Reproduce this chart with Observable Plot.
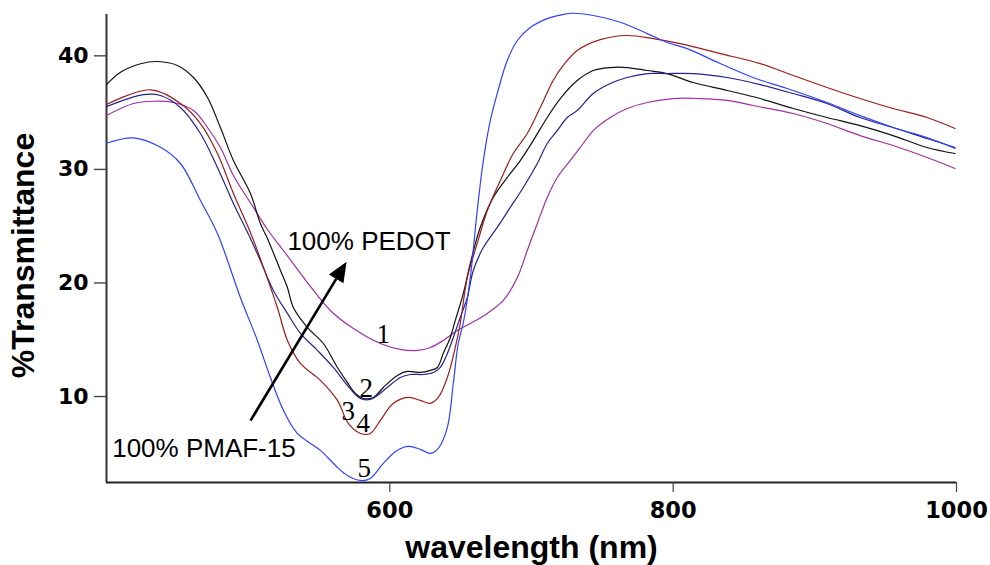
<!DOCTYPE html>
<html>
<head>
<meta charset="utf-8">
<script src="https://cdn.jsdelivr.net/npm/d3@7"></script>
<script src="https://cdn.jsdelivr.net/npm/@observablehq/plot@0.6"></script>
<style>
  html, body { margin: 0; padding: 0; background: #fff; }
  svg { display: block; }
</style>
</head>
<body>
<div id="chart"></div>
<script>
// Transmittance spectra of PEDOT / PMAF-15 films, [wavelength nm, %T]
const curve1 = [[400,34.74],[419,35.80],[433.2,36.00],[447.3,35.89],[461.4,35.18],[471.3,33.69],[480.4,31.93],[489.6,29.46],[503.7,26.65],[513.6,24.71],[524.9,22.86],[541.8,20.04],[558,17.58],[574.3,15.99],[593.3,14.67],[607.4,14.15],[619.4,14.06],[628.6,14.32],[637.7,14.94],[647.6,15.82],[656.8,16.43],[668.8,17.32],[680.1,18.46],[690,20.48],[697,22.86],[704.1,25.24],[711.1,27.53],[718.2,29.29],[727.3,30.78],[734.4,31.93],[743.6,33.42],[755.6,34.57],[767.5,35.36],[781.7,35.89],[800,36.24],[819,36.24],[838.1,36.07],[856.4,35.63],[884.7,34.92],[908.6,34.04],[931.9,32.98],[955.2,32.10],[979.2,31.05],[999,30.08]];
const curve2 = [[400,37.47],[409.9,38.56],[424,39.30],[436,39.50],[450.1,39.15],[461.4,38.09],[471.3,36.33],[480.4,33.69],[489.6,30.78],[501.6,27.88],[508.6,25.24],[513.6,23.92],[522.8,21.10],[527.7,19.6],[531.9,17.84],[541.8,16.08],[553.1,14.67],[563,12.56],[570,11.24],[575.7,10.27],[581.3,9.83],[588.4,9.92],[595.4,10.80],[605.3,11.86],[612.3,12.21],[621.5,12.12],[628.6,12.30],[633.5,12.56],[637.7,13.79],[642.7,15.20],[646.2,16.70],[651.9,19.08],[656.8,21.72],[663.8,24.89],[673,27.53],[682.9,29.29],[692.1,30.78],[701.2,32.54],[711.1,34.57],[720.3,36.24],[732.3,37.83],[743.6,38.71],[755.6,38.97],[767.5,38.97],[781.7,38.71],[795.8,38.44],[814.1,37.65],[838.1,36.95],[861.4,36.24],[884.7,35.36],[908.6,34.57],[931.9,33.86],[955.2,32.98],[979.2,31.93],[999,31.40]];
const curve3 = [[400,35.53],[426.1,36.59],[438.1,36.51],[452.2,35.45],[466.3,33.16],[478.3,30.17],[489.6,27.00],[501.6,23.92],[508.6,21.98],[517.8,19.34],[527.7,17.32],[536.9,15.56],[548.9,14.06],[560.1,12.56],[570,10.98],[579.2,9.83],[586.2,9.75],[591.2,10.10],[598.2,10.80],[607.4,11.68],[614.5,11.94],[623.6,11.94],[630.7,12.12],[635.6,12.56],[640.6,13.79],[644.8,15.20],[649.7,16.96],[654.7,18.72],[658.9,21.10],[666,23.12],[675.8,24.89],[685,26.65],[694.2,28.41],[704.1,30.52],[711.1,32.28],[718.2,33.42],[725.2,34.57],[732.3,35.18],[743.6,36.68],[755.6,37.56],[767.5,38.09],[781.7,38.44],[795.8,38.44],[814.1,38.44],[838.1,38.09],[861.4,37.47],[884.7,36.68],[908.6,35.80],[931.9,34.57],[955.2,33.69],[979.2,32.72],[999,31.93]];
const curve4 = [[400,35.71],[431,37.01],[452.2,35.80],[466.3,34.04],[478.3,31.40],[489.6,27.88],[501.6,24.45],[510.8,21.37],[520.6,17.84],[527.7,14.94],[536.9,12.91],[551,11.42],[563,9.66],[570.7,7.63],[579.2,6.75],[586.2,6.75],[593.3,7.90],[602.5,9.40],[613.1,9.92],[621.5,9.66],[628.6,9.40],[634.2,9.92],[640.6,11.68],[646.2,14.32],[649.7,16.43],[654.7,20.48],[661.7,23.48],[668.8,26.38],[678,29.02],[687.1,31.40],[697,33.16],[706.2,35.45],[715.3,37.83],[722.4,39.15],[732.3,40.47],[748.5,41.43],[767.5,41.79],[785.9,41.52],[804.9,41.08],[833.2,40.20],[861.4,39.32],[884.7,38.27],[908.6,37.21],[931.9,36.24],[955.2,35.36],[979.2,34.57],[999,33.60]];
const curve5 = [[400,32.30],[419,32.78],[438.1,31.95],[452.2,30.52],[466.3,27.26],[478.3,24.36],[494.5,18.72],[506.5,14.94],[515.7,11.68],[524.9,8.78],[534.7,6.75],[551,5.26],[563,3.76],[570,3.05],[579.2,2.61],[586.2,2.79],[595.4,4.11],[605.3,5.26],[613.1,5.61],[621.5,5.35],[628.6,4.99],[634.2,5.43],[640.6,7.28],[644.8,11.15],[648.3,14.67],[651.9,16.5],[656.8,20.48],[661.7,26.38],[666,30.78],[670.9,34.30],[675.8,36.68],[682.9,39.59],[690,41.35],[699.1,42.49],[711.1,43.28],[722.4,43.64],[728.8,43.75],[743.6,43.55],[762.6,42.96],[781.7,41.96],[795.8,41.17],[809.9,40.64],[833.2,39.32],[856.4,38.09],[880.4,37.12],[908.6,35.89],[931.9,34.74],[955.2,33.69],[979.2,32.81],[999,31.84]];

const seriesNames = ["1", "2", "3", "4", "5"];
const seriesData = [curve1, curve2, curve3, curve4, curve5];
// where each curve number is written, [wavelength, %T]
const seriesLabelAt = [[595.4, 14.67], [583.4, 9.92], [570.7, 7.9], [581.3, 6.84], [582.0, 2.88]];

const xDomain = [400, 1000];
const yDomain = [2.43, 43.64];
const xTicks = [600, 800, 1000];
const yTicks = [10, 20, 30, 40];

const notes = [
  {nm: 527.7, t: 22.92, text: "100% PEDOT"},
  {nm: 404.0, t: 4.67, text: "100% PMAF-15"}
];
const arrowFrom = [502.0, 7.83];
const arrowTo = [569.8, 21.83];

// drawing styles
const colors = ["#a030a0", "#111111", "#23238f", "#9b1c1c", "#3040ff"];
const sansBold = "'Liberation Sans', Arial, sans-serif";
const tickFont = "'DejaVu Sans', Verdana, sans-serif";

const rows = seriesData.map((pts, i) => pts.map(([nm, t]) => ({nm, t, s: seriesNames[i]})));
const labelRows = seriesLabelAt.map(([nm, t], i) => ({nm, t, text: seriesNames[i]}));

// filled arrowhead drawn in screen space from the arrow's end points
function arrowHead(index, scales) {
  const x1 = scales.x(arrowFrom[0]), y1 = scales.y(arrowFrom[1]);
  const x2 = scales.x(arrowTo[0]), y2 = scales.y(arrowTo[1]);
  const a = Math.atan2(y2 - y1, x2 - x1);
  const len = 20, half = 8.5;
  const bx = x2 - len * Math.cos(a), by = y2 - len * Math.sin(a);
  const g = d3.create("svg:g");
  g.append("line")
    .attr("x1", x1).attr("y1", y1).attr("x2", bx).attr("y2", by)
    .attr("stroke", "#000").attr("stroke-width", 2.6);
  g.append("path")
    .attr("d", `M${x2},${y2}L${bx + half * Math.sin(a)},${by - half * Math.cos(a)}L${bx - half * Math.sin(a)},${by + half * Math.cos(a)}Z`)
    .attr("fill", "#000");
  return g.node();
}

const chart = Plot.plot({
  width: 990,
  height: 565,
  marginLeft: 106,
  marginRight: 34,
  marginTop: 14,
  marginBottom: 83,
  style: {background: "#fff", overflow: "visible"},
  x: {domain: xDomain, label: null},
  y: {domain: yDomain, label: null},
  marks: [
    Plot.ruleX([xDomain[0]], {stroke: "#333", strokeWidth: 2}),
    Plot.ruleY([yDomain[0]], {stroke: "#222", strokeWidth: 1.8}),
    Plot.axisY(yTicks, {
      tickSize: 12, tickPadding: 6, label: null, tickFormat: (d) => String(d),
      fontSize: 22, fontWeight: "bold", fontFamily: tickFont,
      stroke: "#444", strokeWidth: 1.4, fill: "#000"
    }),
    Plot.axisX(xTicks, {
      tickSize: 10, tickPadding: 10, label: null, tickFormat: (d) => String(d),
      fontSize: 22.5, fontWeight: "bold", fontFamily: tickFont,
      stroke: "#444", strokeWidth: 1.2, fill: "#000"
    }),
    ...rows.map((r, i) => Plot.line(r, {
      x: "nm", y: "t", stroke: colors[i], strokeWidth: 1.2, curve: "catmull-rom"
    })),
    Plot.text(labelRows, {
      x: "nm", y: "t", text: "text", textAnchor: "middle", lineAnchor: "bottom",
      fontSize: 27, fontFamily: "'Liberation Serif', 'Times New Roman', serif", fill: "#000"
    }),
    Plot.text(notes, {
      x: "nm", y: "t", text: "text", textAnchor: "start", lineAnchor: "bottom",
      fontSize: 26, fontFamily: sansBold, fill: "#000"
    }),
    arrowHead,
    Plot.text(["%Transmittance"], {
      frameAnchor: "left", rotate: -90, dx: -73, dy: 7,
      textAnchor: "middle", lineAnchor: "bottom",
      fontSize: 32, fontWeight: "bold", fontFamily: sansBold, fill: "#000"
    }),
    Plot.text(["wavelength (nm)"], {
      frameAnchor: "bottom", dy: 75,
      textAnchor: "middle", lineAnchor: "bottom",
      fontSize: 32, fontWeight: "bold", fontFamily: sansBold, fill: "#000"
    })
  ]
});

document.getElementById("chart").appendChild(chart);
</script>
</body>
</html>
